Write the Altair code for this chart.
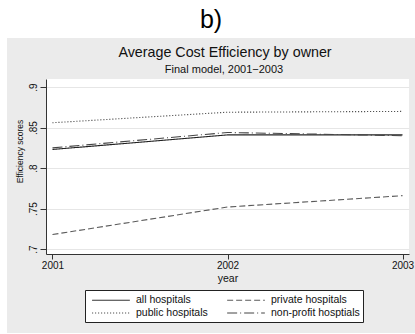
import altair as alt
import pandas as pd

# Average cost efficiency scores by hospital ownership, 2001-2003
years = [2001, 2002, 2003]
all_hospitals = [0.823, 0.841, 0.841]
private_hospitals = [0.718, 0.752, 0.766]
public_hospitals = [0.856, 0.869, 0.870]
nonprofit_hospitals = [0.825, 0.844, 0.840]

series_names = ["all hospitals", "private hospitals", "public hospitals", "non-profit hosptials"]
series_values = [all_hospitals, private_hospitals, public_hospitals, nonprofit_hospitals]
series_dash = [[1, 0], [6, 3], [1, 2], [10, 3, 1, 3]]
series_color = ["#222222", "#5a5a5a", "#333333", "#444444"]

rows = []
for name, vals in zip(series_names, series_values):
    for yr, v in zip(years, vals):
        rows.append({"year": str(yr), "score": v, "owner": name})
df = pd.DataFrame(rows)

W, H = 363, 175
panel_gray = "#ebebeb"
font = "Liberation Sans"

one = pd.DataFrame({"k": [0]})

# white margin strips around the gray graph region (top band and left edge)
top_strip = alt.Chart(one).mark_rect(color="white", clip=False).encode(
    x=alt.value(-46), x2=alt.value(W + 6), y=alt.value(-79), y2=alt.value(-41)
)
left_strip = alt.Chart(one).mark_rect(color="white", clip=False).encode(
    x=alt.value(-46), x2=alt.value(-39), y=alt.value(-79), y2=alt.value(H + 80)
)
bottom_strip = alt.Chart(one).mark_rect(color="white", clip=False).encode(
    x=alt.value(-46), x2=alt.value(W + 6), y=alt.value(H + 79), y2=alt.value(H + 80)
)

# headings: panel letter, title and subtitle
headings = pd.DataFrame({
    "t": ["b)", "Average Cost Efficiency by owner", "Final model, 2001\u22122003"],
})
panel_label = alt.Chart(headings.iloc[[0]]).mark_text(
    fontSize=25, font=font, color="black", clip=False, baseline="alphabetic"
).encode(text="t:N", x=alt.value(165), y=alt.value(-51))
main_title = alt.Chart(headings.iloc[[1]]).mark_text(
    fontSize=14.3, font=font, color="#111111", clip=False, baseline="alphabetic"
).encode(text="t:N", x=alt.value(179), y=alt.value(-22))
sub_title = alt.Chart(headings.iloc[[2]]).mark_text(
    fontSize=11, font=font, color="#111111", clip=False, baseline="alphabetic"
).encode(text="t:N", x=alt.value(178), y=alt.value(-6))

lines = alt.Chart(df).mark_line(strokeWidth=1.1).encode(
    x=alt.X(
        "year:O",
        scale=alt.Scale(type="point", domain=[str(y) for y in years], padding=0.037),
        axis=alt.Axis(title="year", grid=False, labelAngle=0,
                      labelOverlap=False, labelFlush=False),
    ),
    y=alt.Y(
        "score:Q",
        scale=alt.Scale(domain=[0.694, 0.910], nice=False, zero=False),
        axis=alt.Axis(
            values=[0.7, 0.75, 0.8, 0.85, 0.9],
            labelExpr="slice(format(datum.value, '.2~f'), 1)",
            title="Efficiency scores",
            titleFontSize=8.5,
            titleY=72,
            labelAngle=270,
            labelAlign="center",
            labelBaseline="bottom",
            labelOverlap=False,
            labelFlush=False,
            grid=True,
        ),
    ),
    color=alt.Color(
        "owner:N",
        scale=alt.Scale(domain=series_names, range=series_color),
        legend=alt.Legend(title=None),
    ),
    strokeDash=alt.StrokeDash(
        "owner:N",
        scale=alt.Scale(domain=series_names, range=series_dash),
        legend=alt.Legend(title=None),
    ),
    order="year:O",
)

chart = alt.layer(
    top_strip, left_strip, bottom_strip, lines, panel_label, main_title, sub_title
).properties(
    width=W,
    height=H,
    autosize=alt.AutoSizeParams(type="none"),
    padding={"left": 46, "top": 79, "right": 6, "bottom": 80},
    background=panel_gray,
).configure_view(
    stroke=None, fill="white"
).configure_axis(
    labelFont=font,
    titleFont=font,
    labelFontSize=10,
    titleFontSize=10.5,
    titleFontWeight="normal",
    labelColor="#111111",
    titleColor="#111111",
    domainColor="#333333",
    tickColor="#333333",
    tickSize=5,
    gridColor="#e6e6e6",
    gridWidth=1,
).configure_axisX(
    labelPadding=1,
    titlePadding=3,
).configure_axisY(
    labelPadding=2,
    titlePadding=4,
    tickSize=6,
).configure_legend(
    orient="none",
    legendX=39,
    legendY=211,
    columns=2,
    direction="horizontal",
    symbolType="M-2.9,0H2.9",
    symbolSize=169,
    symbolStrokeWidth=1,
    symbolOffset=16,
    labelOffset=18,
    labelFont=font,
    labelFontSize=10.5,
    labelColor="#111111",
    strokeColor="#222222",
    fillColor="white",
    padding=3,
    rowPadding=0,
    columnPadding=15,
)

chart.save("out.html", embed_options={"renderer": "svg", "actions": False})
